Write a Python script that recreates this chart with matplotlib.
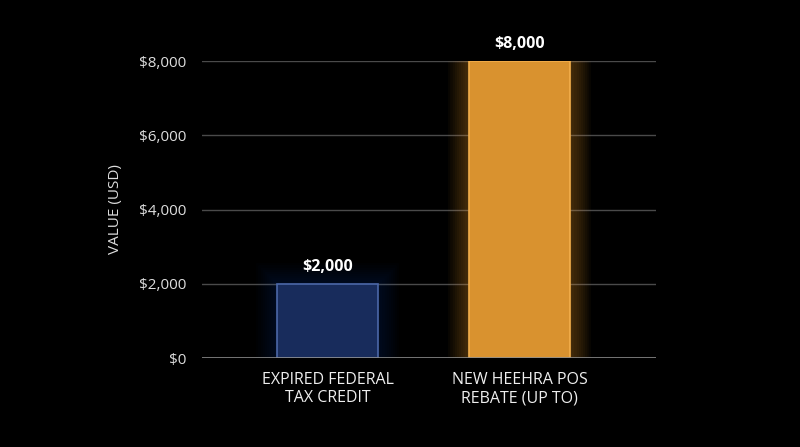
import matplotlib
matplotlib.use('Agg')
import matplotlib.pyplot as plt

# Chart data
categories = ['EXPIRED FEDERAL\nTAX CREDIT', 'NEW HEEHRA POS\nREBATE (UP TO)']
values = [2000, 8000]
value_labels = ['$2,000', '$8,000']
y_ticks = [0, 2000, 4000, 6000, 8000]
y_tick_labels = ['$0', '$2,000', '$4,000', '$6,000', '$8,000']

fill_colors = ['#182c5c', '#d9922f']
edge_colors = ['#4b67a8', '#f4b04c']
glow_colors = ['#2a4fa8', '#f0a030']
glow_strength = [0.022, 0.035]

plt.rcParams['font.family'] = ['Open Sans', 'DejaVu Sans']

fig = plt.figure(figsize=(8, 4.47), dpi=100, facecolor='black')
ax = fig.add_axes([0.2525, 0.1991, 0.5675, 0.6644], facecolor='black')

x = list(range(len(categories)))
width = 0.526

for t in y_ticks[1:]:
    ax.axhline(t, color='#4a4a4a', linewidth=1.0, zorder=0.5)

# soft glow behind the bars
for i in x:
    for lw in range(30, 0, -3):
        ax.bar(x[i], values[i], width=width, color='none',
               edgecolor=glow_colors[i], linewidth=lw,
               alpha=glow_strength[i], zorder=1)

ax.bar(x, values, width=width, color=fill_colors, edgecolor=edge_colors,
       linewidth=1.2, zorder=3)

for i in x:
    ax.text(x[i], values[i] + 230, value_labels[i], ha='center', va='bottom',
            color='white', fontsize=11.5, fontweight='bold', zorder=4)

ax.axhline(0, color='#8a8a8a', linewidth=1.2, zorder=5)

ax.set_xlim(-0.655, 1.71)
ax.set_ylim(0, 8000)
ax.set_yticks(y_ticks)
ax.set_yticklabels(y_tick_labels)
ax.set_xticks(x)
ax.set_xticklabels(categories)

ax.tick_params(axis='y', length=0, pad=11, colors='#dddddd', labelsize=11)
ax.tick_params(axis='x', length=0, pad=10, colors='#eeeeee', labelsize=11.5)
ax.set_ylabel('VALUE (USD)', color='#dddddd', fontsize=11, labelpad=12)

for s in ax.spines.values():
    s.set_visible(False)

fig.savefig('out.png', dpi=100, facecolor='black')
